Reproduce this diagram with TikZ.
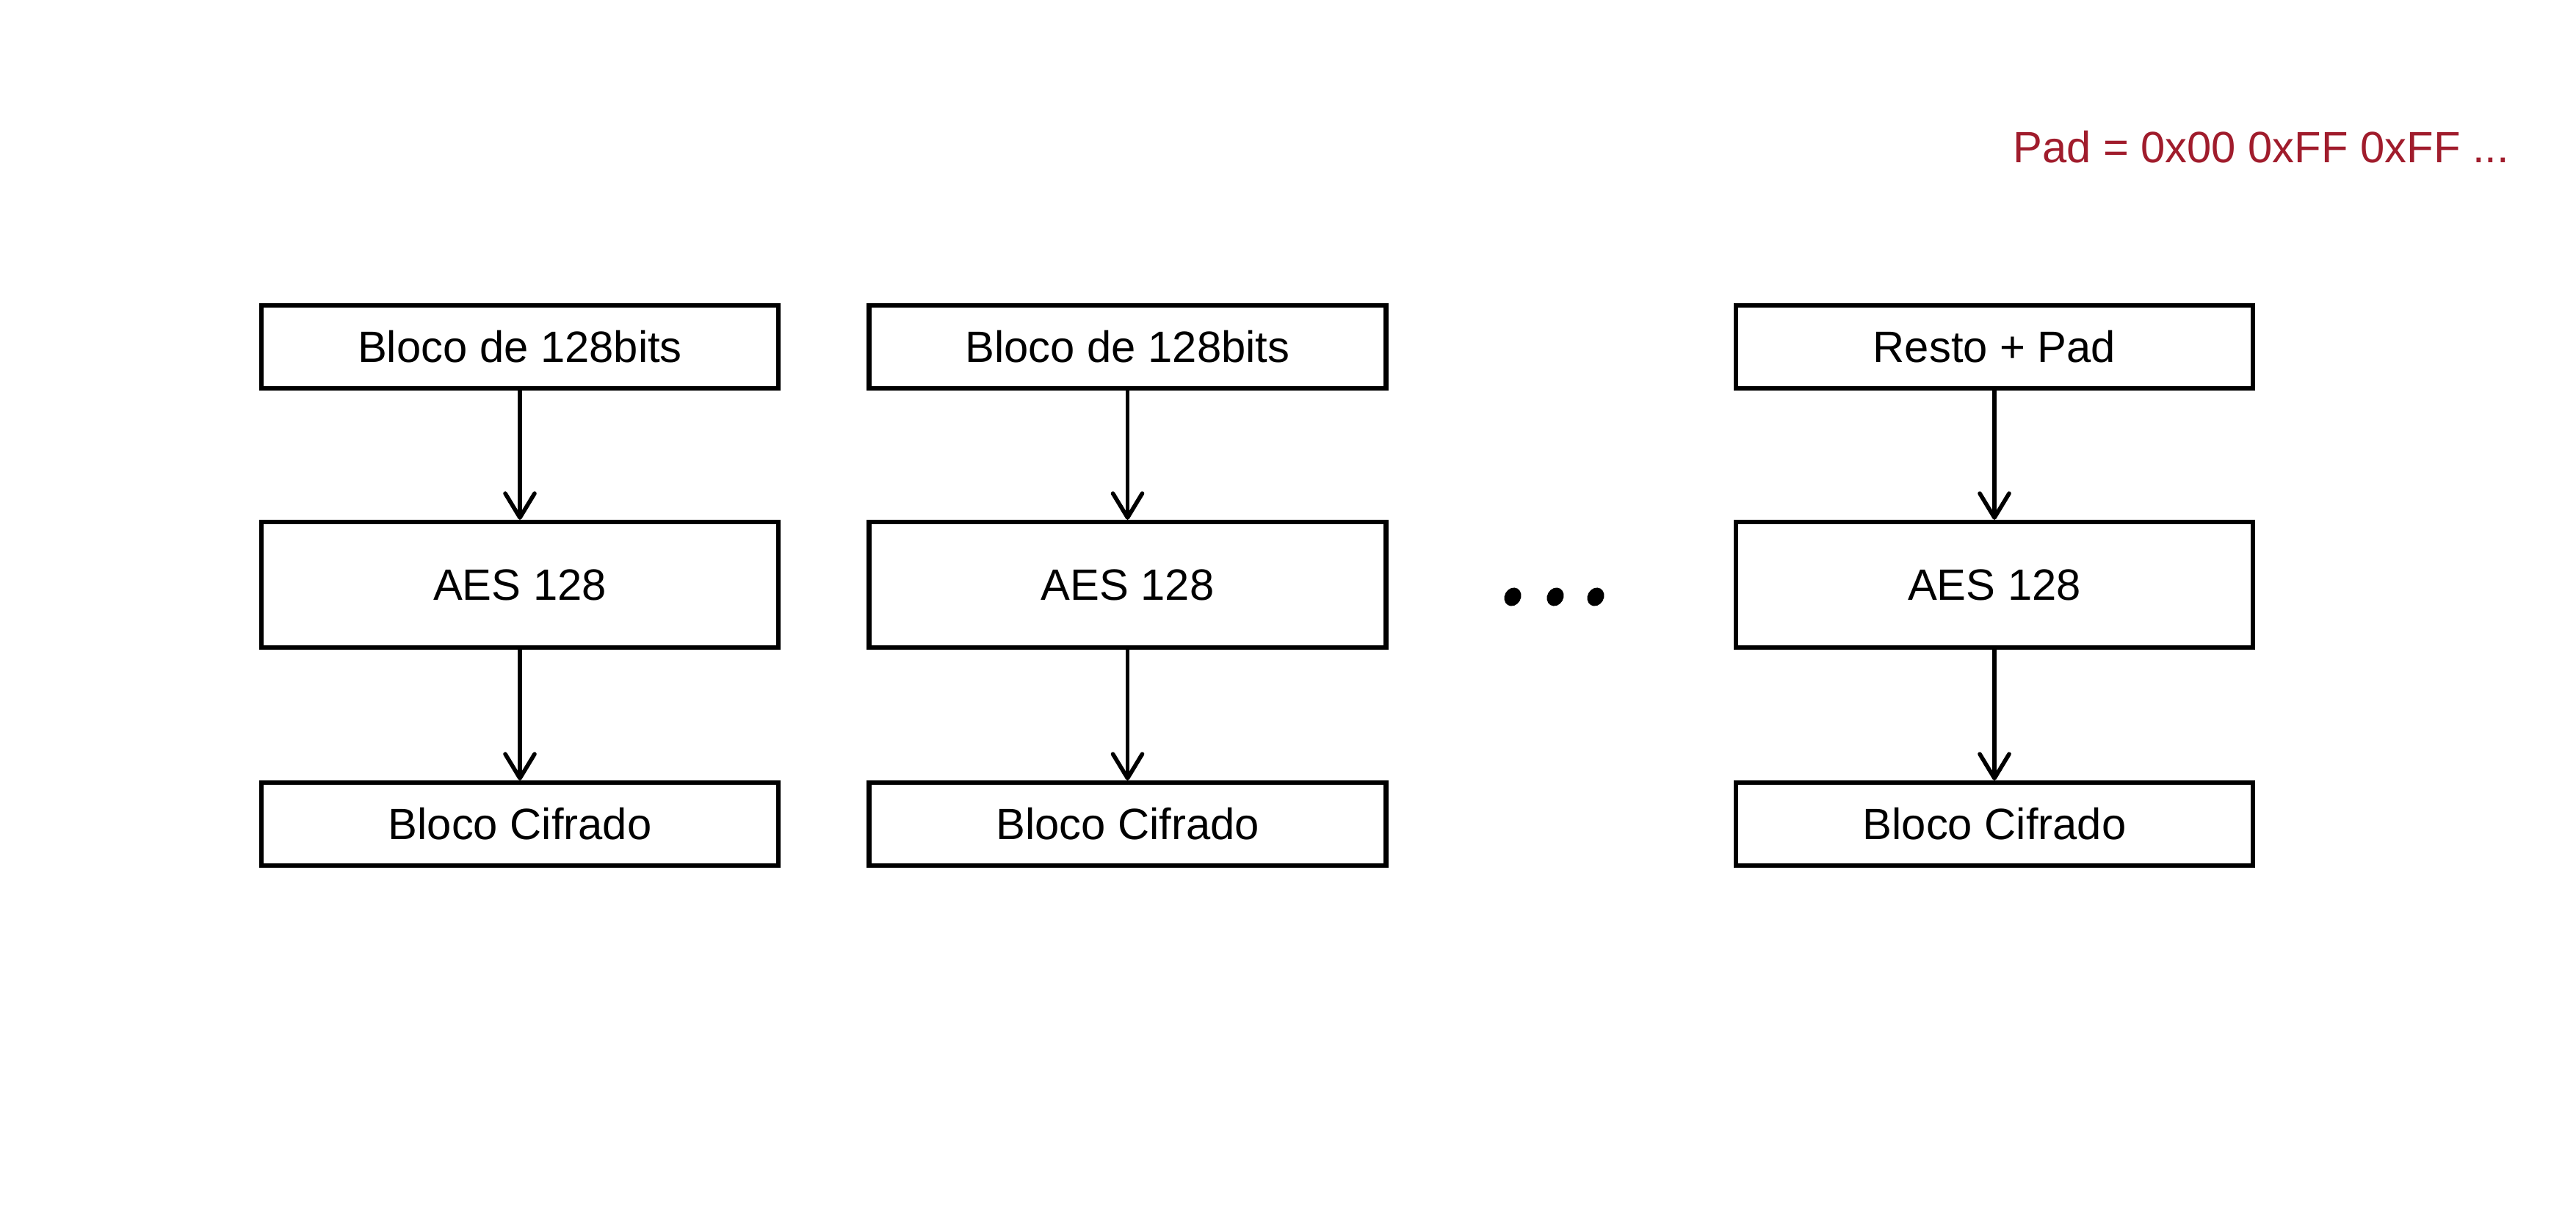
\documentclass[tikz,border=0pt]{standalone}
\usepackage{fontspec}
\setmainfont{Liberation Sans}
\usetikzlibrary{arrows.meta,positioning}
\definecolor{padred}{RGB}{160,28,44}

\begin{document}
\begin{tikzpicture}[nodes={draw, rectangle, line width=1.75pt, minimum width=7.04cm, font=\fontsize{17}{20}\selectfont},
    blk/.style={minimum height=1.13cm},
    aes/.style={minimum height=1.71cm},
    seta/.style={line width=1.6pt, -{Straight Barb[length=3.3mm,width=4.0mm,round]}}]
            \useasboundingbox (0,0) rectangle (35.08,16.54);
            % coluna 1
            \node[blk] (in1) at (7.08,11.815) {Bloco de 128bits};
            \node[aes] (aes1) at (7.08,8.575) {AES 128};
            \node[blk] (out1) at (7.08,5.315) {Bloco Cifrado};
            % coluna 2
            \node[blk] (in2) at (15.355,11.815) {Bloco de 128bits};
            \node[aes] (aes2) at (15.355,8.575) {AES 128};
            \node[blk] (out2) at (15.355,5.315) {Bloco Cifrado};
            % coluna 3
            \node[blk] (in3) at (27.16,11.815) {Resto + Pad};
            \node[aes] (aes3) at (27.16,8.575) {AES 128};
            \node[blk] (out3) at (27.16,5.315) {Bloco Cifrado};
            \foreach \i in {1,2,3} {
                \draw[seta] (in\i) -- (aes\i);
                \draw[seta] (aes\i) -- (out\i);
            }
            % reticencias
            \foreach \x in {20.60,21.18,21.73}
                \fill[rotate around={-30:(\x,8.41)}] (\x,8.41) ellipse (0.11cm and 0.13cm);
            \node[draw=none, minimum width=0pt, inner sep=0pt, anchor=base east, text=padred] (pad) at (34.20,14.32) {Pad = 0x00 0xFF 0xFF ...};
        \end{tikzpicture}
\end{document}
